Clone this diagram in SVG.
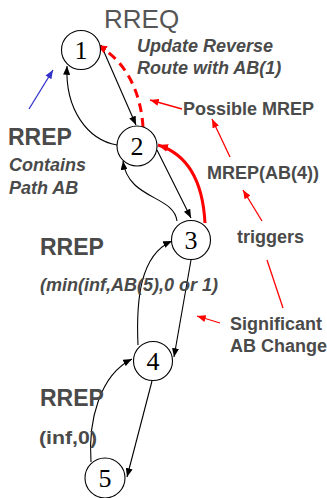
<svg xmlns="http://www.w3.org/2000/svg" width="327" height="498" viewBox="0 0 327 498">
<style>
.node circle{fill:#fff;stroke:#000;stroke-width:1.1}
.node text{font-family:"Liberation Serif",serif;font-size:26px;fill:#000;text-anchor:middle}
.blk{fill:none;stroke:#000;stroke-width:1.1}
.red{fill:none;stroke:#f00;stroke-width:1.3}
.redthick{fill:none;stroke:#f00;stroke-width:3}
.reddash{fill:none;stroke:#f00;stroke-width:3;stroke-dasharray:9,6}
.blue{fill:none;stroke:#3333cc;stroke-width:1.3}
.lbl{font-family:"Liberation Sans",Arial,sans-serif;font-size:18px;font-weight:bold;fill:#4a4a4a}
.it{font-style:italic}
.big{font-size:23px}
</style>
<defs>
<marker id="ab" viewBox="0 0 10 8" refX="10" refY="4" markerWidth="9" markerHeight="7" markerUnits="userSpaceOnUse" orient="auto"><path d="M0,0 L10,4 L0,8 z" fill="#000"/></marker>
<marker id="ar" viewBox="0 0 10 8" refX="10" refY="4" markerWidth="10" markerHeight="8" markerUnits="userSpaceOnUse" orient="auto"><path d="M0,0 L10,4 L0,8 z" fill="#f00"/></marker>
<marker id="as" viewBox="0 0 10 8" refX="10" refY="4" markerWidth="9" markerHeight="7" markerUnits="userSpaceOnUse" orient="auto"><path d="M0,0 L10,4 L0,8 z" fill="#f00"/></marker>
<marker id="abl" viewBox="0 0 10 8" refX="10" refY="4" markerWidth="9" markerHeight="7" markerUnits="userSpaceOnUse" orient="auto"><path d="M0,0 L10,4 L0,8 z" fill="#3333cc"/></marker>
</defs>
<rect width="327" height="498" fill="#fff"/>
<g id="connectors">
<path class="blk" d="M101,45 L136,125" marker-end="url(#ab)"/>
<path class="blk" d="M117,145 C 88,140 65,110 67,66" marker-end="url(#ab)"/>
<path class="reddash" d="M143,127 C 141,95 128,62 97,45" marker-end="url(#ar)"/>
<path class="blue" d="M29,109 L53,70" marker-end="url(#abl)"/>
<path class="red" d="M182,109 L150,100" marker-end="url(#as)"/>
<path class="red" d="M230,157 L212,119" marker-end="url(#as)"/>
<path class="redthick" d="M205,223 C 203,185 190,155 158,145" marker-end="url(#ar)"/>
<path class="blk" d="M157,150 L191,218" marker-end="url(#ab)"/>
<path class="blk" d="M177,221 C 174,195 128,200 123,161" marker-end="url(#ab)"/>
<path class="blk" d="M191,260 L174,357" marker-end="url(#ab)"/>
<path class="blk" d="M138,345 C 136,300 140,255 172,241" marker-end="url(#ab)"/>
<path class="blk" d="M152,381 L127,477" marker-end="url(#ab)"/>
<path class="blk" d="M91,462 C 88,420 100,375 132,359" marker-end="url(#ab)"/>
<path class="red" d="M220,323 L197,316" marker-end="url(#as)"/>
<path class="red" d="M283,308 L267,260"/>
<path class="red" d="M262,221 L243,190" marker-end="url(#as)"/>
</g>
<g id="n1" class="node"><circle cx="81" cy="50" r="19.5"/><text x="81" y="59">1</text></g>
<g id="n2" class="node"><circle cx="137" cy="146" r="20"/><text x="137" y="155">2</text></g>
<g id="n3" class="node"><circle cx="191" cy="240" r="19.5"/><text x="191" y="249">3</text></g>
<g id="n4" class="node"><circle cx="153" cy="361" r="19.5"/><text x="153" y="370">4</text></g>
<g id="n5" class="node"><circle cx="105" cy="478" r="20"/><text x="105" y="487">5</text></g>
<g id="labels">
<text x="104" y="28" style="font-family:'Liberation Sans',Arial,sans-serif;font-size:26px;fill:#555">RREQ</text>
<text class="lbl it" x="137" y="52">Update Reverse</text>
<text class="lbl it" x="137" y="74">Route with AB(1)</text>
<text class="lbl" x="183" y="115">Possible MREP</text>
<text class="lbl big" x="8" y="145">RREP</text>
<text class="lbl it" x="9" y="171">Contains</text>
<text class="lbl it" x="9" y="194">Path AB</text>
<text class="lbl" x="207" y="179">MREP(AB(4))</text>
<text class="lbl" x="237" y="243">triggers</text>
<text class="lbl big" x="40" y="255">RREP</text>
<text class="lbl it" x="40" y="291">(min(inf,AB(5),0 or 1)</text>
<text class="lbl" x="230" y="330">Significant</text>
<text class="lbl" x="230" y="352">AB Change</text>
<text class="lbl big" x="40" y="406">RREP</text>
<text class="lbl" x="39" y="444" textLength="58" lengthAdjust="spacingAndGlyphs">(inf,0)</text>
</g>
</svg>
